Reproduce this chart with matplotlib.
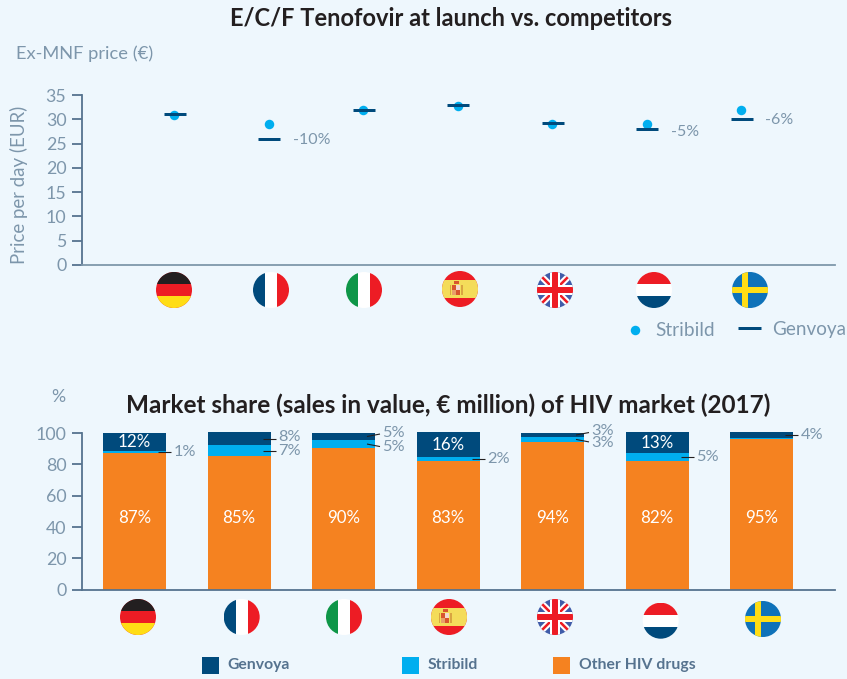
import matplotlib
matplotlib.use("Agg")
import matplotlib.pyplot as plt
from matplotlib.patches import Circle, Rectangle, Polygon
from matplotlib.lines import Line2D

plt.rcParams['font.family'] = ['Lato', 'DejaVu Sans']

# ---------- data ----------
countries = ['Germany', 'France', 'Italy', 'Spain', 'UK', 'Netherlands', 'Sweden']
stribild_price = [30.8, 29, 31.9, 32.7, 29, 29, 32]
genvoya_price = [31, 26, 32, 33, 29.2, 28, 30]
price_notes = {1: '-10%', 5: '-5%', 6: '-6%'}

other_share = [87.2, 85.3, 90.4, 82, 94.4, 82, 96.2]
stribild_share = [1.3, 7, 5.1, 2.6, 3, 5.2, 0.3]
genvoya_share = [11.5, 8.3, 4.5, 16, 2.6, 13.4, 4.1]
other_labels = ['87%', '85%', '90%', '83%', '94%', '82%', '95%']
stribild_labels = ['1%', '7%', '5%', '2%', '3%', '5%', '']
genvoya_labels = ['12%', '8%', '5%', '16%', '3%', '13%', '4%']

price_ticks = [0, 5, 10, 15, 20, 25, 30, 35]
share_ticks = [0, 20, 40, 60, 80, 100]

# ---------- style ----------
W, H = 847, 679
BG = '#eef7fd'
NAVY = '#004a7c'
CYAN = '#00aeef'
ORANGE = '#f58220'
AXIS = '#56738f'
AXIS_LIGHT = '#7f98ab'
TXT = '#7d96ab'
DARK = '#231f20'
RED = '#ed1c24'
YEL = '#ffdd15'
PX = 0.72

fig = plt.figure(figsize=(W / 100, H / 100), dpi=100, facecolor=BG)


def axes_px(l, t, r, b):
    return fig.add_axes([l / W, 1 - b / H, (r - l) / W, (b - t) / H], facecolor='none')


ov = fig.add_axes([0, 0, 1, 1], facecolor='none', zorder=5)
ov.set_xlim(0, W)
ov.set_ylim(H, 0)
ov.axis('off')

FS = 12.2


def style_axes(ax, bottom_color):
    for s in ('top', 'right'):
        ax.spines[s].set_visible(False)
    ax.spines['left'].set_color(AXIS)
    ax.spines['left'].set_linewidth(1.3)
    ax.spines['bottom'].set_color(bottom_color)
    ax.spines['bottom'].set_linewidth(1.3)
    ax.tick_params(axis='y', length=7.2, width=1.3, color=AXIS, labelcolor=TXT,
                   labelsize=FS + 0.6, pad=4)
    ax.set_xticks([])


# ---------- top chart ----------
ax1 = axes_px(82, 95, 834.7, 265)
x1 = list(range(len(countries)))
ax1.set_xlim((82 - 174) / 94.5, (834.7 - 174) / 94.5)
ax1.set_ylim(0, 35)
ax1.set_yticks(price_ticks)
style_axes(ax1, AXIS_LIGHT)
ax1.plot(x1, stribild_price, ls='none', marker='o', ms=9.5 * PX, mfc=CYAN, mec=CYAN, mew=0,
         clip_on=False, zorder=3)
ax1.plot([v + 0.01 for v in x1], genvoya_price, ls='none', marker='_', ms=23 * PX, mew=3 * PX, color=NAVY,
         clip_on=False, zorder=4)
note_drop = {1: -1.5, 5: -3.5, 6: -1}
for i, note in price_notes.items():
    ax1.annotate(note, xy=(i, genvoya_price[i]), xytext=(24, note_drop[i]), textcoords='offset pixels',
                 va='center', ha='left', color=TXT, fontsize=FS - 0.7)

# ---------- bottom chart ----------
ax2 = axes_px(82, 433, 834.7, 589.7)
ax2.set_xlim((82 - 134.5) / 104.5, (834.7 - 134.5) / 104.5)
ax2.set_ylim(0, 100)
ax2.set_yticks(share_ticks)
style_axes(ax2, AXIS)
bw = 63 / 104.5
bot2 = [a + b for a, b in zip(other_share, stribild_share)]
ax2.bar(x1, other_share, width=bw, color=ORANGE, clip_on=False, zorder=2)
ax2.bar(x1, stribild_share, width=bw, bottom=other_share, color=CYAN, clip_on=False, zorder=2)
ax2.bar(x1, genvoya_share, width=bw, bottom=bot2, color=NAVY, clip_on=False, zorder=2)

for i, lab in enumerate(other_labels):
    ax2.text(i, 46, lab, color='white', ha='center', va='center', fontsize=FS, zorder=4)
for i in (0, 3, 5):
    ax2.text(i, bot2[i] + genvoya_share[i] / 2 - 0.3, genvoya_labels[i], color='white', ha='center',
             va='center', fontsize=FS, zorder=4)


def to_px(ax, x, y):
    px, py = ax.transData.transform((x, y))
    return px, H - py


def outer_label(i, base, height, text, rise=0, text_rise=0):
    """Leader from a bar's segment to its outside label (offsets in pixels)."""
    xr, ym = to_px(ax2, i + bw / 2, base + height / 2)
    ov.plot([xr - 8, xr + 5], [ym + 0, ym + rise], color=DARK, lw=0.8, solid_capstyle='butt')
    ov.text(xr + 7.5, ym + rise + text_rise, text, color=TXT, ha='left', va='center', fontsize=11.8)


outer_label(0, other_share[0], stribild_share[0], stribild_labels[0])
outer_label(1, bot2[1], genvoya_share[1], genvoya_labels[1], text_rise=-1.5)
outer_label(1, other_share[1], stribild_share[1], stribild_labels[1], text_rise=0.5)
outer_label(2, bot2[2], genvoya_share[2], genvoya_labels[2], rise=-2.5, text_rise=-1.5)
outer_label(2, other_share[2], stribild_share[2], stribild_labels[2], rise=2.5, text_rise=0.5)
outer_label(3, other_share[3], stribild_share[3], stribild_labels[3])
outer_label(4, bot2[4], genvoya_share[4], genvoya_labels[4], rise=-2.5, text_rise=-2)
outer_label(4, other_share[4], stribild_share[4], stribild_labels[4], rise=2.5, text_rise=1)
outer_label(5, other_share[5], stribild_share[5], stribild_labels[5])
outer_label(6, bot2[6], genvoya_share[6], genvoya_labels[6])


# ---------- flags ----------
def clip_add(patch, clip):
    ov.add_patch(patch)
    patch.set_clip_path(clip)


def rect(cx, cy, r, x0, y0, x1_, y1_, color, clip):
    """Rectangle in flag units (-1..1)."""
    clip_add(Rectangle((cx + x0 * r, cy + y0 * r), (x1_ - x0) * r, (y1_ - y0) * r, fc=color, ec='none'), clip)


def poly(cx, cy, r, pts, color, clip):
    clip_add(Polygon([(cx + a * r, cy + b * r) for a, b in pts], closed=True, fc=color, ec='none'), clip)


def flag(name, cx, cy, r=18):
    base_col = {'Germany': RED, 'France': 'white', 'Italy': 'white', 'Spain': RED,
                'UK': '#3f5ca9', 'Netherlands': 'white', 'Sweden': '#0f72b9'}[name]
    c = Circle((cx, cy), r, fc=base_col, ec='none')
    ov.add_patch(c)
    if name == 'Germany':
        rect(cx, cy, r, -1, -1, 1, -1 / 3, DARK, c)
        rect(cx, cy, r, -1, 1 / 3, 1, 1, YEL, c)
    elif name == 'France':
        rect(cx, cy, r, -1, -1, -1 / 3, 1, NAVY, c)
        rect(cx, cy, r, 1 / 3, -1, 1, 1, RED, c)
    elif name == 'Italy':
        rect(cx, cy, r, -1, -1, -1 / 3, 1, '#0e9648', c)
        rect(cx, cy, r, 1 / 3, -1, 1, 1, RED, c)
    elif name == 'Spain':
        rect(cx, cy, r, -1, -0.5, 1, 0.5, '#f4dc5a', c)
        # small coat of arms
        rect(cx, cy, r, -0.42, -0.24, 0.02, 0.36, '#e8a06a', c)
        rect(cx, cy, r, -0.42, -0.24, -0.2, 0.06, '#d8552e', c)
        rect(cx, cy, r, -0.2, 0.06, 0.02, 0.36, '#d8552e', c)
        rect(cx, cy, r, -0.2, -0.24, 0.02, 0.06, '#f3d9d0', c)
        rect(cx, cy, r, -0.58, -0.2, -0.48, 0.34, '#d9a441', c)
        rect(cx, cy, r, 0.08, -0.2, 0.18, 0.34, '#d9a441', c)
        rect(cx, cy, r, -0.34, -0.42, -0.06, -0.28, '#d8552e', c)
    elif name == 'UK':
        for d, col in ((0.13, 'white'), (0.05, RED)):
            poly(cx, cy, r, [(-1 + d, -1 - d), (1 + d, 1 - d), (1 - d, 1 + d), (-1 - d, -1 + d)], col, c)
            poly(cx, cy, r, [(1 - d, -1 - d), (1 + d, -1 + d), (-1 + d, 1 + d), (-1 - d, 1 - d)], col, c)
        rect(cx, cy, r, -1, -0.26, 1, 0.26, 'white', c)
        rect(cx, cy, r, -0.26, -1, 0.26, 1, 'white', c)
        rect(cx, cy, r, -1, -0.16, 1, 0.16, RED, c)
        rect(cx, cy, r, -0.16, -1, 0.16, 1, RED, c)
    elif name == 'Netherlands':
        rect(cx, cy, r, -1, -1, 1, -1 / 3, RED, c)
        rect(cx, cy, r, -1, 1 / 3, 1, 1, NAVY, c)
    elif name == 'Sweden':
        rect(cx, cy, r, -1, -0.17, 1, 0.17, YEL, c)
        rect(cx, cy, r, -0.45, -1, -0.1, 1, YEL, c)


top_flag_centres = [(174, 290), (271, 290), (364, 290), (460, 289), (555, 290), (654, 290), (750, 290)]
low_flag_centres = [(138, 617), (241.7, 617), (344, 617), (449, 617), (555, 617), (660.7, 620.7), (763, 619)]
for name, (cx, cy) in zip(countries, top_flag_centres):
    flag(name, cx, cy)
for name, (cx, cy) in zip(countries, low_flag_centres):
    flag(name, cx, cy)

# ---------- titles, axis captions ----------
ov.text(451, 19, 'E/C/F Tenofovir at launch vs. competitors', color=DARK, ha='center', va='center',
        fontsize=17, fontweight='bold')
ov.text(448, 405, 'Market share (sales in value, € million) of HIV market (2017)', color=DARK,
        ha='center', va='center', fontsize=17.5, fontweight='bold')
ov.text(16, 54, 'Ex-MNF price (€)', color=TXT, ha='left', va='center', fontsize=13.2)
ov.text(19, 185, 'Price per day (EUR)', color=TXT, ha='center', va='center', rotation=90, fontsize=13.4)
ov.text(58, 397, '%', color=TXT, ha='center', va='center', fontsize=FS + 0.6)

# ---------- legends ----------
ov.add_line(Line2D([635], [329.7], ls='none', marker='o', ms=9.5 * PX, mfc=CYAN, mew=0))
ov.text(655.3, 330, 'Stribild', color=TXT, ha='left', va='center', fontsize=13.8)
ov.plot([738, 761], [328, 328], color=NAVY, lw=3 * PX, solid_capstyle='butt')
ov.text(771.7, 330, 'Genvoya', color=TXT, ha='left', va='center', fontsize=13.6)

for sx, tx, col, lab in [(202, 227.7, NAVY, 'Genvoya'), (402, 427.3, CYAN, 'Stribild'), (553, 578.7, ORANGE, 'Other HIV drugs')]:
    ov.add_patch(Rectangle((sx, 657), 17, 17, fc=col, ec='none'))
    ov.text(tx, 665, lab, color=AXIS, ha='left', va='center', fontsize=11.3, fontweight='bold')

fig.savefig('out.png', dpi=100, facecolor=BG)
